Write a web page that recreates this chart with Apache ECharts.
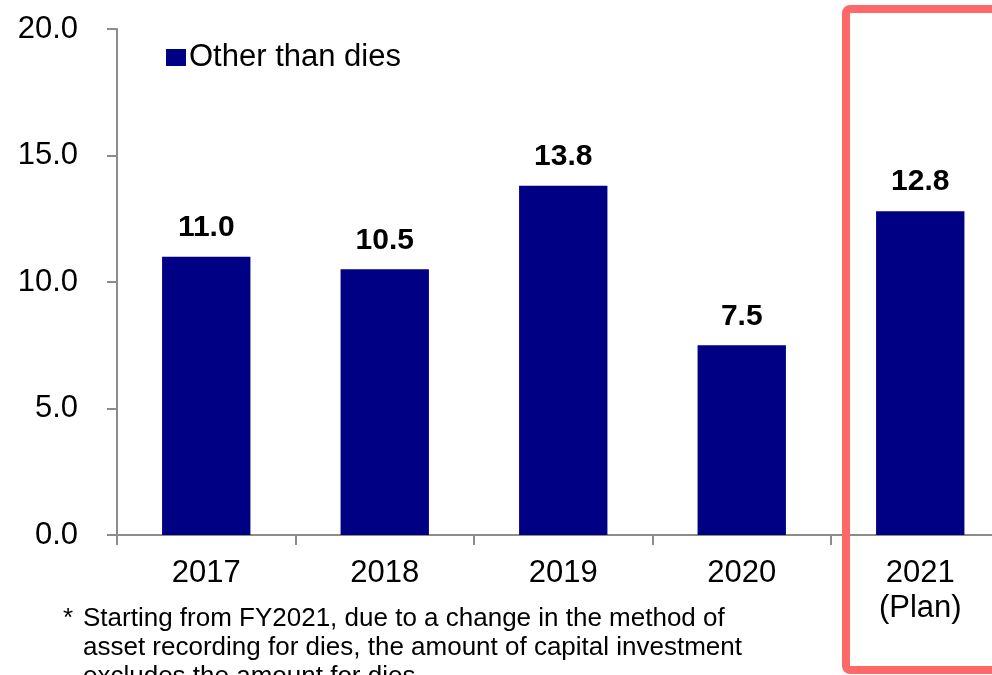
<!DOCTYPE html>
<html>
<head>
<meta charset="utf-8">
<script src="https://cdn.jsdelivr.net/npm/echarts@6/dist/echarts.min.js"></script>
<style>
  html, body { margin: 0; padding: 0; background: #ffffff; }
  #chart { width: 992px; height: 675px; }
</style>
</head>
<body>
<div id="chart"></div>
<script>
// Capital investment (other than dies), by fiscal year
const categories = ['2017', '2018', '2019', '2020', '2021\n(Plan)'];
const otherThanDies = [11.0, 10.5, 13.8, 7.5, 12.8];
const yTicks = [0, 5, 10, 15, 20];
const seriesName = 'Other than dies';
const footnoteLines = [
  'Starting from FY2021, due to a change in the method of',
  'asset recording for dies, the amount of capital investment',
  'excludes the amount for dies.'
];

const FONT = '"Liberation Sans", Arial, sans-serif';
const chart = echarts.init(document.getElementById('chart'), null, { renderer: 'canvas' });

chart.setOption({
  animation: false,
  backgroundColor: '#ffffff',
  textStyle: { fontFamily: FONT, color: '#000000' },
  // the plot runs past the right edge so the last category is cut by the frame
  grid: {
    left: 117, width: 892.5, top: 29, bottom: 140,
    containLabel: false, outerBoundsMode: 'none'
  },
  legend: {
    data: [seriesName],
    left: 161,
    top: 37,
    icon: 'rect',
    itemWidth: 20,
    itemHeight: 17,
    itemGap: 4,
    textStyle: { fontSize: 31, color: '#000000', fontFamily: FONT, padding: [0, 0, 0, -2] }
  },
  xAxis: {
    type: 'category',
    data: categories,
    boundaryGap: true,
    axisLine: { lineStyle: { color: '#8c8c8c', width: 2 } },
    axisTick: { show: true, alignWithLabel: false, length: 10, lineStyle: { color: '#8c8c8c', width: 2 } },
    axisLabel: { fontSize: 31, color: '#000000', fontFamily: FONT, margin: 21, lineHeight: 35 },
    splitLine: { show: false }
  },
  yAxis: {
    type: 'value',
    min: yTicks[0],
    max: yTicks[yTicks.length - 1],
    interval: yTicks[1] - yTicks[0],
    axisLine: { show: true, lineStyle: { color: '#8c8c8c', width: 2 } },
    axisTick: { show: true, length: 10, lineStyle: { color: '#8c8c8c', width: 2 } },
    axisLabel: {
      fontSize: 31, color: '#000000', fontFamily: FONT, margin: 39,
      formatter: v => v.toFixed(1)
    },
    splitLine: { show: false }
  },
  series: [{
    name: seriesName,
    type: 'bar',
    data: otherThanDies,
    barWidth: '49.5%',
    itemStyle: { color: '#000085' },
    label: {
      show: true,
      position: 'top',
      distance: 14,
      fontSize: 30,
      fontWeight: 'bold',
      color: '#000000',
      fontFamily: FONT,
      formatter: p => p.value.toFixed(1)
    }
  }],
  graphic: [
    {
      type: 'rect',
      shape: { x: 846, y: 9, width: 200, height: 661, r: 4 },
      style: { fill: 'none', stroke: '#ff6868', lineWidth: 8 },
      z: 10
    },
    {
      type: 'text',
      x: 63,
      y: 604,
      style: { text: '*', font: '26px ' + FONT, fill: '#000000', lineHeight: 29 }
    },
    {
      type: 'text',
      x: 83,
      y: 604,
      style: { text: footnoteLines.join('\n'), font: '26px ' + FONT, fill: '#000000', lineHeight: 29 }
    }
  ]
});
</script>
</body>
</html>
